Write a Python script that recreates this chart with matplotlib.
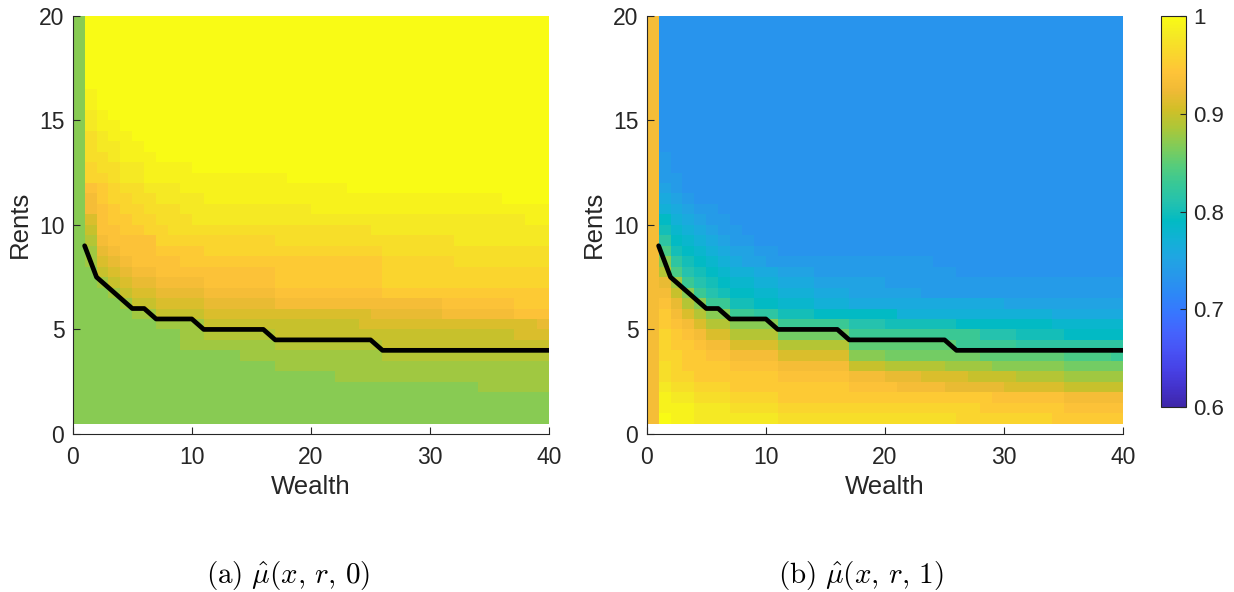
import numpy as np
import matplotlib
matplotlib.use("Agg")
import matplotlib.pyplot as plt
from matplotlib.colors import LinearSegmentedColormap

# level codes: '0' = 0.60 ... 'E' = 1.00, steps of 0.01
LEVELS = "0123456789abcdefghijklmnopqrstuvwxyzABCDE"

wealth_edges = np.arange(0, 41)
rent_edges = np.arange(0.5, 20.01, 0.5)

# optimal threshold (black line)
threshold_wealth = [1, 2, 3, 4, 5, 6, 7, 8, 9, 10, 11, 12, 13, 14, 15, 16, 17, 18, 19, 20,
                    21, 22, 23, 24, 25, 26, 27, 28, 29, 30, 31, 32, 33, 34, 35, 36, 37, 38, 39, 40]
threshold_rent = [9, 7.5, 7, 6.5, 6, 6, 5.5, 5.5, 5.5, 5.5, 5, 5, 5, 5, 5, 5,
                  4.5, 4.5, 4.5, 4.5, 4.5, 4.5, 4.5, 4.5, 4.5,
                  4, 4, 4, 4, 4, 4, 4, 4, 4, 4, 4, 4, 4, 4, 4]

# mu_hat(x, r, 0): one string per rent row, top (r=19.5) to bottom (r=0.5),
# one char per wealth cell x=0..39, last char repeats to the right edge
mu0_rows = [
    "rE", "rE", "rE", "rE", "rE", "rE", "rE",          # 19.5 .. 16.5
    "rDE",                                             # 16.0
    "rDE",                                             # 15.5
    "rCDE",                                            # 15.0
    "rCDDE",                                           # 14.5
    "rBCDDE",                                          # 14.0
    "rBCCDDE",                                         # 13.5
    "rBBCDDDE",                                        # 13.0
    "rABBCCDDDDE",                                     # 12.5
    "rAABCC" + "D" * 12 + "E",                         # 12.0
    "ryzABBCCC" + "D" * 14 + "E",                      # 11.5
    "rxzAABBCCCC" + "D" * 25 + "E",                    # 11.0
    "rxyzAABBB" + "C" * 11 + "D",                      # 10.5
    "rvyzzAABBB" + "C" * 28 + "D",                     # 10.0
    "ruyyzzAA" + "B" * 17 + "C",                       # 9.5
    "rtxyyyyAAAA" + "A" * 6 + "B" * 15 + "C",          # 9.0
    "rswxyyyzzzz" + "A" * 6 + "A" * 9 + "B",           # 8.5
    "rsvwxyyyy" + "z" * 8 + "z" * 9 + "A" * 6 + "B",   # 8.0
    "rruvwxx" + "y" * 10 + "z" * 9 + "A",              # 7.5
    "rrsuvww" + "xxxx" + "y" * 6 + "z" * 9 + "A",      # 7.0
    "rrrsuvvwwww" + "x" * 6 + "y" * 9 + "z",           # 6.5
    "rrrrsuuvvvv" + "w" * 6 + "x" * 14 + "y" * 6 + "z",  # 6.0
    "rrrrrssuuuu" + "v" * 14 + "w" * 6 + "x" * 6 + "y",  # 5.5
    "rrrrrrrssss" + "u" * 13 + "v" * 15 + "w",         # 5.0
    "r" * 9 + "ss" + "t" * 6 + "u" * 20 + "v",         # 4.5
    "r" * 9 + "s" * 8 + "t" * 9 + "u",                 # 4.0
    "r" * 14 + "s" * 12 + "t",                         # 3.5
    "r" * 17 + "s",                                    # 3.0
    "r" * 22 + "s",                                    # 2.5
    "r" * 34 + "s",                                    # 2.0
    "r", "r", "r",                                     # 1.5 .. 0.5
]

# mu_hat(x, r, 1)
mu1_rows = [
    "xd", "xd", "xd", "xd", "xd", "xd", "xd",
    "xd", "xd", "xd", "xd", "xd", "xd",                # 19.5 .. 13.5
    "xed",                                             # 13.0
    "xed",                                             # 12.5
    "xeed",                                            # 12.0
    "xfed",                                            # 11.5
    "xgfed",                                           # 11.0
    "xhgfeed",                                         # 10.5
    "xjhgfeed",                                        # 10.0
    "xkihgfeed",                                       # 9.5
    "xmjihgfeed",                                      # 9.0
    "xokjihgffeed",                                    # 8.5
    "xrmkjihgff" + "e" * 14 + "d",                     # 8.0
    "xtolkjihhggfff" + "e" * 12 + "d",                 # 7.5
    "xwsnlkjiihhggg" + "ffffff" + "e",                 # 7.0
    "xxurnlkjjiihhhggg" + "ffffff" + "e",              # 6.5
    "xywtrnnkkjjiiihhh" + "g" * 13 + "f",              # 6.0
    "xzxvtrrnnmmkkk" + "j" * 7 + "h" * 13 + "g",       # 5.5
    "xzyxvttrrrr" + "nnnnnn" + "lll" + "kkkkkk" + "jjjjjjjj" + "i",  # 5.0
    "xAzyxvv" + "tttt" + "qqqqqq" + "n" * 11 + "lll" + "kkkk" + "j",  # 4.5
    "xAzzyxx" + "vvvv" + "tttttt" + "p" * 9 + "nnnnn" + "m",          # 4.0
    "xAAzzyy" + "xxxx" + "vvvvvv" + "rrr" + "q" * 8 + "p" * 7 + "oooo" + "n",  # 3.5
    "xBAzzzz" + "yyyy" + "xxxxxx" + "uuu" + "ttttt" + "ssss" + "rrrrrr" + "q",  # 3.0
    "xBAA" + "z" * 7 + "y" * 6 + "xxx" + "www" + "vvvv" + "uuuu" + "tttt" + "s",  # 2.5
    "xCBBAAA" + "z" * 10 + "yyyy" + "xxxx" + "wwwww" + "vvvvv" + "u",  # 2.0
    "xDCCBBB" + "AAAA" + "z" * 18 + "y" * 6 + "x",     # 1.5
    "xDDDCCC" + "BBBB" + "A" * 17 + "z" * 7 + "y",     # 1.0
    "xEDD" + "C" * 7 + "B" * 15 + "A" * 8 + "z",       # 0.5
]

captions = [r"$\mathrm{(a)}\ \hat{\mu}(x,\,r,\,0)$", r"$\mathrm{(b)}\ \hat{\mu}(x,\,r,\,1)$"]


def decode(rows):
    grid = []
    for row in rows:
        row = row.ljust(40, row[-1])[:40]
        grid.append([0.6 + 0.01 * LEVELS.index(c) for c in row])
    return np.array(grid[::-1])


# MATLAB parula, every third entry of the 64 colour table
parula = LinearSegmentedColormap.from_list("parula", [
    (0.2422, 0.1504, 0.6603), (0.2647, 0.1978, 0.7952), (0.2783, 0.2559, 0.8991),
    (0.2810, 0.3228, 0.9579), (0.2699, 0.3892, 0.9906), (0.2206, 0.4603, 0.9973),
    (0.1786, 0.5289, 0.9682), (0.1540, 0.5902, 0.9218), (0.1248, 0.6459, 0.8883),
    (0.0689, 0.6948, 0.8394), (0.0067, 0.7312, 0.7660), (0.1408, 0.7584, 0.6842),
    (0.2161, 0.7843, 0.5923), (0.3406, 0.8008, 0.4789), (0.5044, 0.7993, 0.3480),
    (0.6720, 0.7793, 0.2227), (0.8203, 0.7498, 0.1535), (0.9393, 0.7288, 0.2100),
    (0.9970, 0.7659, 0.2199), (0.9786, 0.8386, 0.1766), (0.9597, 0.9135, 0.1423),
    (0.9769, 0.9839, 0.0805)])

plt.rcParams["font.family"] = ["Liberation Sans", "DejaVu Sans"]
plt.rcParams["mathtext.fontset"] = "cm"
dark = (0.15, 0.15, 0.15)

fig = plt.figure(figsize=(12.34, 5.92), dpi=100)
W, H = 1234.0, 592.0
lefts = [72.7, 646.7]
caption_x = [288, 861]

for i, rows in enumerate([mu0_rows, mu1_rows]):
    ax = fig.add_axes([lefts[i] / W, 1 - 434 / H, 476.6 / W, 418.3 / H])
    mesh = ax.pcolormesh(wealth_edges, rent_edges, decode(rows), cmap=parula,
                         vmin=0.6, vmax=1.0, shading="flat", antialiased=False,
                         linewidth=0)
    ax.plot(threshold_wealth, threshold_rent, color="black", lw=3.4,
            solid_capstyle="round", solid_joinstyle="round")
    ax.set_xlim(0, 40)
    ax.set_ylim(0, 20)
    ax.set_xticks([0, 10, 20, 30, 40])
    ax.set_yticks([0, 5, 10, 15, 20])
    for s in ["top", "right"]:
        ax.spines[s].set_visible(False)
    for s in ["left", "bottom"]:
        ax.spines[s].set_color(dark)
        ax.spines[s].set_linewidth(0.8)
    ax.tick_params(direction="in", length=5, width=0.8, color=dark,
                   labelcolor=dark, labelsize=16.5)
    ax.tick_params(axis="x", pad=8.5)
    ax.tick_params(axis="y", pad=6)
    ax.set_xlabel("Wealth", fontsize=18.5, color=dark)
    ax.set_ylabel("Rents", fontsize=18.5, color=dark)
    ax.xaxis.set_label_coords(0.5, -0.098)
    ax.yaxis.set_label_coords(-0.085, 0.5)
    fig.text(caption_x[i] / W, 1 - 575 / H, captions[i], ha="center", va="center",
             fontsize=21)

cax = fig.add_axes([1161 / W, 1 - 407.3 / H, 25 / W, 391.3 / H])
cb = fig.colorbar(mesh, cax=cax, ticks=[0.6, 0.7, 0.8, 0.9, 1.0])
cb.ax.set_yticklabels(["0.6", "0.7", "0.8", "0.9", "1"])
cb.ax.tick_params(direction="in", length=4, width=0.8, color=dark,
                  labelcolor=dark, labelsize=16, pad=5)
cb.outline.set_edgecolor(dark)
cb.outline.set_linewidth(0.8)

fig.savefig("out.png", dpi=100)
